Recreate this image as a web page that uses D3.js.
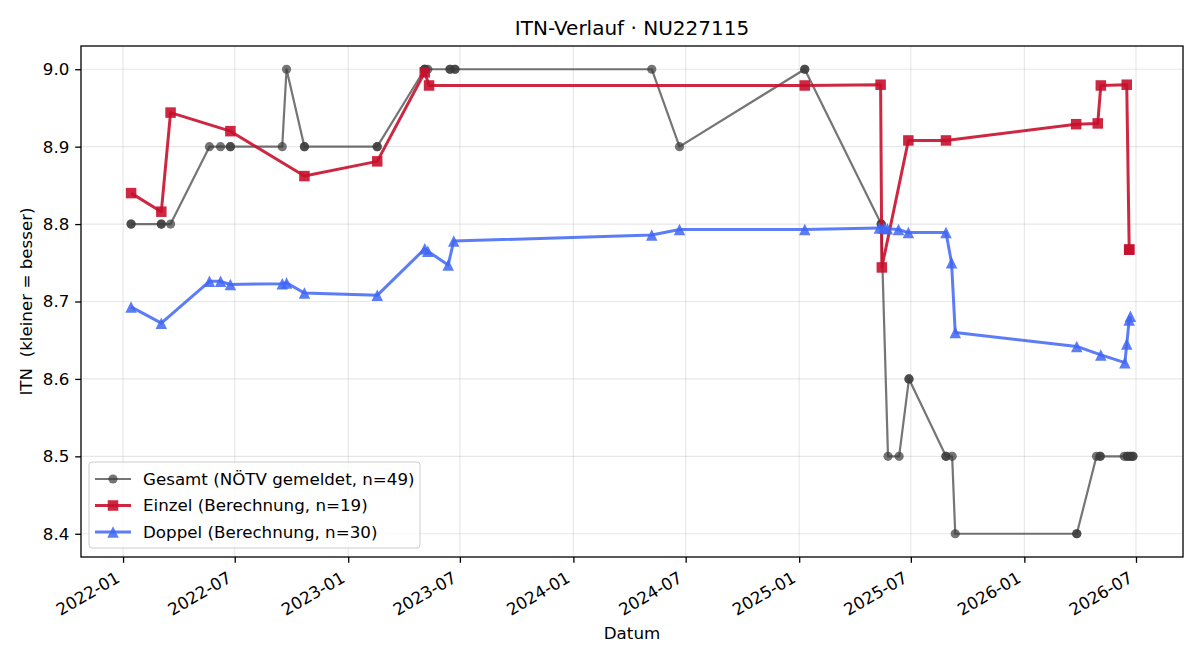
<!DOCTYPE html>
<html><head><meta charset="utf-8">
<script src="https://cdn.jsdelivr.net/npm/d3@7"></script>
<style>
html,body{margin:0;padding:0;background:#fff;}
svg{display:block;font-family:"DejaVu Sans",sans-serif;}
text{white-space:pre;}
</style></head>
<body>
<svg id="chart" width="1200" height="660"></svg>
<script>
// ---- data ----
const title = "ITN-Verlauf · NU227115";
const xLabel = "Datum";
const yLabel = "ITN  (kleiner = besser)";

const gesamtDates = [
 "2022-01-14","2022-01-14","2022-03-04","2022-03-04","2022-03-19","2022-05-21","2022-06-08","2022-06-24","2022-06-24",
 "2022-09-16","2022-09-23","2022-10-22","2022-10-22","2023-02-17","2023-02-17","2023-05-05","2023-05-05","2023-05-05",
 "2023-05-10","2023-06-15","2023-06-15","2023-06-23","2023-06-23","2024-05-07","2024-06-21","2025-01-10","2025-01-10",
 "2025-05-14","2025-05-14","2025-05-25","2025-06-12","2025-06-28","2025-06-28","2025-08-27","2025-08-27","2025-09-06",
 "2025-09-11","2026-03-27","2026-03-27","2026-04-28","2026-05-04","2026-05-04","2026-06-12","2026-06-17","2026-06-17",
 "2026-06-22","2026-06-22","2026-06-26","2026-06-26"];
const gesamtValues = [
 8.8,8.8,8.8,8.8,8.8,8.9,8.9,8.9,8.9,
 8.9,9.0,8.9,8.9,8.9,8.9,9.0,9.0,9.0,
 9.0,9.0,9.0,9.0,9.0,9.0,8.9,9.0,9.0,
 8.8,8.8,8.5,8.5,8.6,8.6,8.5,8.5,8.5,
 8.4,8.4,8.4,8.5,8.5,8.5,8.5,8.5,8.5,
 8.5,8.5,8.5,8.5];

const einzelDates = [
 "2022-01-14","2022-03-04","2022-03-19","2022-06-24","2022-10-22","2023-02-17","2023-05-05","2023-05-12",
 "2025-01-10","2025-05-13","2025-05-15","2025-06-27","2025-08-27","2026-03-26","2026-04-30","2026-05-05",
 "2026-06-16","2026-06-20","2026-06-20"];
const einzelValues = [
 8.840,8.816,8.944,8.920,8.862,8.881,8.996,8.979,
 8.979,8.980,8.744,8.908,8.908,8.929,8.930,8.979,
 8.980,8.767,8.767];

const doppelDates = [
 "2022-01-14","2022-03-04","2022-05-21","2022-06-08","2022-06-24","2022-09-16","2022-09-23","2022-10-22",
 "2023-02-17","2023-05-05","2023-05-10","2023-06-12","2023-06-21","2024-05-07","2024-06-21","2025-01-10",
 "2025-05-11","2025-05-18","2025-05-24","2025-06-11","2025-06-27","2025-08-27","2025-09-05","2025-09-11",
 "2026-03-27","2026-05-05","2026-06-13","2026-06-16","2026-06-20","2026-06-22"];
const doppelValues = [
 8.693,8.672,8.726,8.726,8.722,8.723,8.724,8.711,
 8.708,8.768,8.765,8.747,8.778,8.786,8.793,8.793,
 8.795,8.795,8.794,8.793,8.789,8.789,8.750,8.660,
 8.642,8.631,8.621,8.645,8.676,8.681];

const seriesNames = ["Gesamt (NÖTV gemeldet, n=49)","Einzel (Berechnung, n=19)","Doppel (Berechnung, n=30)"];
const yTicks = [8.4,8.5,8.6,8.7,8.8,8.9,9.0];
const xTickDates = ["2022-01-01","2022-07-01","2023-01-01","2023-07-01","2024-01-01","2024-07-01","2025-01-01","2025-07-01","2026-01-01","2026-07-01"];

// ---- build ----
const parse = d3.utcParse("%Y-%m-%d");
const mk = (ds, vs) => ds.map((d,i)=>({date:parse(d), value:vs[i]}));
const series = [
  {name:seriesNames[0], data:mk(gesamtDates,gesamtValues), color:"#3a3a3a", opacity:0.7, width:2.2, marker:"circle", msize:4.6},
  {name:seriesNames[1], data:mk(einzelDates,einzelValues), color:"#c8102e", opacity:0.9, width:3, marker:"square", msize:10.5},
  {name:seriesNames[2], data:mk(doppelDates,doppelValues), color:"#4066f4", opacity:0.85, width:3, marker:"triangle", msize:11.5}
];

const FS = 16.7;
const svg = d3.select("#chart");
const L=81, R=1183, T=46, B=557;

const all = series.flatMap(s=>s.data);
const [dmin,dmax] = d3.extent(all, d=>d.date);
const dpad = (dmax-dmin)*0.05;
const x = d3.scaleUtc().domain([new Date(+dmin-dpad), new Date(+dmax+dpad)]).range([L,R]);
const [vmin,vmax] = d3.extent(all, d=>d.value);
const vpad = (vmax-vmin)*0.05;
const y = d3.scaleLinear().domain([vmin-vpad, vmax+vpad]).range([B,T]);

svg.append("rect").attr("width",1200).attr("height",660).attr("fill","#fff");

// grid
const xt = xTickDates.map(parse);
const grid = svg.append("g");
grid.selectAll(".gx").data(xt).join("line")
  .attr("x1",d=>x(d)).attr("x2",d=>x(d)).attr("y1",T).attr("y2",B)
  .attr("stroke","#b0b0b0").attr("stroke-opacity",0.3).attr("stroke-width",1.1);
grid.selectAll(".gy").data(yTicks).join("line")
  .attr("x1",L).attr("x2",R).attr("y1",d=>y(d)).attr("y2",d=>y(d))
  .attr("stroke","#b0b0b0").attr("stroke-opacity",0.3).attr("stroke-width",1.1);

// series
const line = d3.line().x(d=>x(d.date)).y(d=>y(d.value));
series.forEach(s=>{
  const g = svg.append("g");
  g.append("path").datum(s.data).attr("d",line).attr("fill","none")
    .attr("stroke",s.color).attr("stroke-opacity",s.opacity).attr("stroke-width",s.width)
    .attr("stroke-linejoin","round").attr("stroke-linecap","butt");
  if(s.marker==="circle"){
    g.selectAll("circle").data(s.data).join("circle")
      .attr("cx",d=>x(d.date)).attr("cy",d=>y(d.value)).attr("r",s.msize)
      .attr("fill",s.color).attr("opacity",s.opacity);
  } else if(s.marker==="square"){
    g.selectAll("rect").data(s.data).join("rect")
      .attr("x",d=>x(d.date)-s.msize/2).attr("y",d=>y(d.value)-s.msize/2)
      .attr("width",s.msize).attr("height",s.msize)
      .attr("fill",s.color).attr("opacity",s.opacity);
  } else {
    const h = s.msize;
    g.selectAll("path.m").data(s.data).join("path").attr("class","m")
      .attr("d",d=>{const cx=x(d.date), cy=y(d.value);
        return `M${cx},${cy-h/2}L${cx+h/2},${cy+h/2}L${cx-h/2},${cy+h/2}Z`;})
      .attr("fill",s.color).attr("opacity",s.opacity);
  }
});

// frame
svg.append("rect").attr("x",L).attr("y",T).attr("width",R-L).attr("height",B-T)
  .attr("fill","none").attr("stroke","#000").attr("stroke-width",1.3);

// axes
const xAxis = svg.append("g").attr("transform",`translate(0,${B})`)
  .call(d3.axisBottom(x).tickValues(xt).tickFormat(d3.utcFormat("%Y-%m")).tickSizeOuter(0).tickSize(5.8).tickPadding(5.8));
xAxis.select(".domain").remove();
xAxis.selectAll("line").attr("stroke","#000").attr("stroke-width",1.3);
xAxis.selectAll("text").attr("font-size",FS).attr("fill","#000")
  .attr("font-family","DejaVu Sans")
  .attr("text-anchor","end").attr("dy",null)
  .attr("transform","translate(-9,13) rotate(-30)")
  .attr("y",0).attr("x",0).attr("dominant-baseline","hanging");

const yAxis = svg.append("g").attr("transform",`translate(${L},0)`)
  .call(d3.axisLeft(y).tickValues(yTicks).tickFormat(d3.format(".1f")).tickSizeOuter(0).tickSize(5.8).tickPadding(5.8));
yAxis.select(".domain").remove();
yAxis.selectAll("line").attr("stroke","#000").attr("stroke-width",1.3);
yAxis.selectAll("text").attr("font-size",FS).attr("fill","#000").attr("font-family","DejaVu Sans");

// labels
svg.append("text").attr("x",(L+R)/2).attr("y",35).attr("text-anchor","middle")
  .attr("font-size",20).attr("fill","#000").text(title);
svg.append("text").attr("x",(L+R)/2).attr("y",639).attr("text-anchor","middle")
  .attr("font-size",FS).attr("fill","#000").text(xLabel);
svg.append("text").attr("transform",`translate(32,${(T+B)/2}) rotate(-90)`).attr("text-anchor","middle")
  .attr("xml:space","preserve")
  .attr("font-size",FS).attr("fill","#000").text(yLabel);

// legend
const lg = svg.append("g");
lg.append("rect").attr("x",89).attr("y",462).attr("width",331).attr("height",86).attr("rx",3)
  .attr("fill","#fff").attr("fill-opacity",0.8).attr("stroke","#cccccc").attr("stroke-width",1);
const rowY = [479,505.5,532];
series.forEach((s,i)=>{
  const cy = rowY[i], cx=113;
  lg.append("line").attr("x1",95).attr("x2",131).attr("y1",cy).attr("y2",cy)
    .attr("stroke",s.color).attr("stroke-opacity",s.opacity).attr("stroke-width",s.width);
  if(s.marker==="circle") lg.append("circle").attr("cx",cx).attr("cy",cy).attr("r",s.msize).attr("fill",s.color).attr("opacity",s.opacity);
  else if(s.marker==="square") lg.append("rect").attr("x",cx-s.msize/2).attr("y",cy-s.msize/2).attr("width",s.msize).attr("height",s.msize).attr("fill",s.color).attr("opacity",s.opacity);
  else { const h=s.msize; lg.append("path").attr("d",`M${cx},${cy-h/2}L${cx+h/2},${cy+h/2}L${cx-h/2},${cy+h/2}Z`).attr("fill",s.color).attr("opacity",s.opacity); }
  lg.append("text").attr("x",143).attr("y",cy).attr("dy","0.35em").attr("font-size",FS).attr("fill","#000").text(s.name);
});
</script>
</body></html>
